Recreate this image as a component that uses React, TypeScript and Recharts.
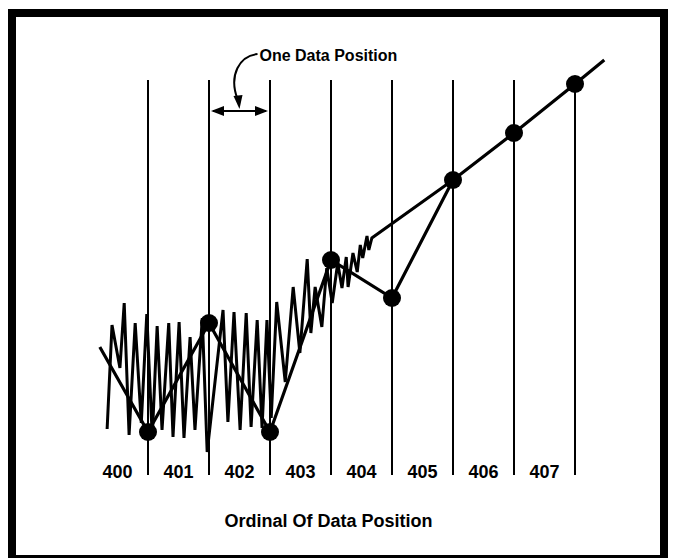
import React from 'react';
import { ComposedChart, Line, Scatter, XAxis, YAxis, ReferenceLine } from 'recharts';

// Ordinal labels of data positions (shown between boundary lines)
const ordinals = [400, 401, 402, 403, 404, 405, 406, 407];
// Boundary (data position) lines
const gridPos = [401, 402, 403, 404, 405, 406, 407, 408];
const gridTop = [79, 79, 79, 79, 79, 79, 79, 78];

// Fine, noisy signal (zigzag)
const zigzagPos = [
  400.33, 400.41, 400.54, 400.61, 400.69, 400.79, 400.89, 400.98, 401.07, 401.15,
  401.23, 401.34, 401.41, 401.51, 401.59, 401.69, 401.77, 401.89, 401.97, 402.23,
  402.31, 402.41, 402.51, 402.61, 402.69, 402.79, 402.87, 402.95, 403.02, 403.11,
  403.25, 403.38, 403.49, 403.61, 403.67, 403.74, 403.85, 403.93, 404.02, 404.11,
  404.18, 404.25, 404.28, 404.36, 404.43, 404.48, 404.52, 404.59, 404.62, 404.67,
  406.0,
];
const zigzagVal = [
  9.2, 30, 21.4, 34.4, 8, 30.4, 10.4, 32.2, 7.6, 29.8,
  9, 30.4, 7.6, 30.6, 7.4, 27.6, 9, 31.4, 4.6, 33,
  10.6, 32.6, 9, 32.4, 9.6, 31, 9.4, 31, 11.4, 34.6,
  18.6, 37.6, 24.4, 43.2, 28.4, 37.6, 29.6, 41.4, 34.4, 42.4,
  37.4, 43.6, 37.6, 44.4, 40.6, 46, 43.4, 47.8, 45, 47.4,
  59,
];

// Coarse sampled line
const coarsePos = [400.21, 401, 402, 403, 404, 405, 406, 407, 408, 408.48];
const coarseVal = [25.6, 8.6, 30.4, 8.6, 43, 35.4, 59, 68.4, 78.2, 83];

// Sample dots
const dotPos = [401, 402, 403, 404, 405, 406, 407, 408];
const dotVal = [8.6, 30.4, 8.6, 43, 35.4, 59, 68.4, 78.2];

const annotationText = 'One Data Position';
const axisTitle = 'Ordinal Of Data Position';
const spanStart = 402;
const spanEnd = 403;
const spanLevel = 72.8;

const zigzagData = zigzagPos.map((p, i) => ({ p, v: zigzagVal[i] }));
const coarseData = coarsePos.map((p, i) => ({ p, v: coarseVal[i] }));
const dotData = dotPos.map((p, i) => ({ p, v: dotVal[i] }));
const tickPositions = ordinals.map((o) => o + 0.5);

const FONT = '"Liberation Sans", Arial, Helvetica, sans-serif';

const SpanShape = (props: any) => {
  const { x1, y1, x2 } = props;
  const mid = (x1 + x2) / 2;
  const y = y1;
  return (
    <g>
      <line x1={x1 + 4} y1={y} x2={x2 - 4} y2={y} stroke="#000" strokeWidth={2} />
      <polygon points={`${x1 + 2},${y} ${x1 + 15},${y - 5} ${x1 + 15},${y + 5}`} fill="#000" />
      <polygon points={`${x2 - 2},${y} ${x2 - 15},${y - 5} ${x2 - 15},${y + 5}`} fill="#000" />
      <path
        d={`M ${mid + 18} ${y - 57} C ${mid} ${y - 55} ${mid - 11} ${y - 36} ${mid - 2} ${y - 12}`}
        fill="none"
        stroke="#000"
        strokeWidth={2}
      />
      <polygon points={`${mid},${y - 2} ${mid - 6},${y - 15} ${mid + 3},${y - 16}`} fill="#000" />
      <text
        x={mid + 20}
        y={y - 50}
        fontFamily={FONT}
        fontWeight="bold"
        fontSize={16}
        fill="#000"
      >
        {annotationText}
      </text>
    </g>
  );
};

const OrdinalTick = (props: any) => {
  const { x, y, payload } = props;
  return (
    <text
      x={x}
      y={y}
      dy={3}
      textAnchor="middle"
      fontFamily={FONT}
      fontWeight="bold"
      fontSize={18}
      fill="#000"
    >
      {Math.floor(payload.value)}
    </text>
  );
};

const DotShape = (props: any) => {
  const { cx, cy } = props;
  return <circle cx={cx} cy={cy} r={9} fill="#000" />;
};

export default function App() {
  return (
    <div style={{ position: 'absolute', left: 0, top: 0, width: 674, height: 559, background: '#fff' }}>
      <div
        style={{
          position: 'absolute',
          left: 8,
          top: 9,
          width: 660,
          height: 549,
          boxSizing: 'border-box',
          borderLeft: '8px solid #000',
          borderTop: '8px solid #000',
          borderRight: '8px solid #000',
          borderBottom: '3px solid #000',
        }}
      />
      <div style={{ position: 'absolute', left: 0, top: 0 }}>
        <ComposedChart width={674} height={559} margin={{ top: 50, right: 38, bottom: 0, left: 87 }}>
          <XAxis
            dataKey="p"
            type="number"
            domain={[400, 409]}
            allowDataOverflow
            ticks={tickPositions}
            interval={0}
            axisLine={false}
            tickLine={false}
            tickSize={0}
            tickMargin={0}
            height={84}
            tick={<OrdinalTick />}
            label={{
              value: axisTitle,
              position: 'insideBottom',
              offset: 32,
              dx: -33,
              fontFamily: FONT,
              fontWeight: 'bold',
              fontSize: 18,
              fill: '#000',
            }}
          />
          <YAxis dataKey="v" type="number" domain={[0, 85]} allowDataOverflow hide />
          {gridPos.map((g, i) => (
            <ReferenceLine
              key={g}
              segment={[
                { x: g, y: gridTop[i] },
                { x: g, y: 0 },
              ]}
              stroke="#000"
              strokeWidth={2}
            />
          ))}
          <ReferenceLine
            segment={[
              { x: spanStart, y: spanLevel },
              { x: spanEnd, y: spanLevel },
            ]}
            stroke="#000"
            shape={<SpanShape />}
          />
          <Line
            data={zigzagData}
            dataKey="v"
            type="linear"
            stroke="#000"
            strokeWidth={3}
            dot={false}
            activeDot={false}
            isAnimationActive={false}
          />
          <Line
            data={coarseData}
            dataKey="v"
            type="linear"
            stroke="#000"
            strokeWidth={3.2}
            dot={false}
            activeDot={false}
            isAnimationActive={false}
          />
          <Scatter data={dotData} dataKey="v" shape={<DotShape />} isAnimationActive={false} />
        </ComposedChart>
      </div>
    </div>
  );
}
